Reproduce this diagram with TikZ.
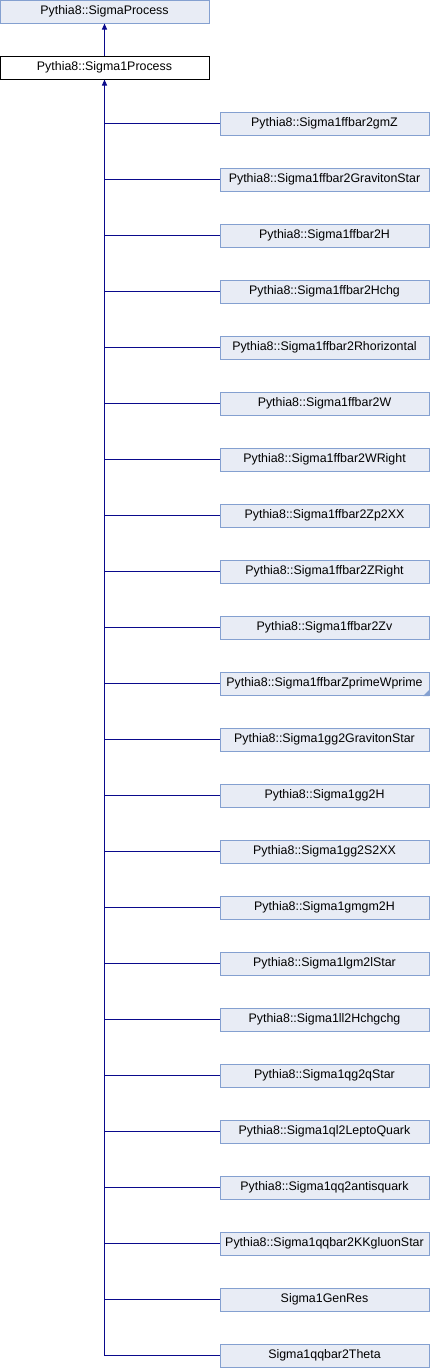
\documentclass[tikz,border=0pt]{standalone}
\usepackage{fontspec}
\setmainfont{Liberation Sans}
\usetikzlibrary{arrows.meta}
\definecolor{boxfill}{HTML}{E8ECF5}
\definecolor{boxline}{HTML}{84A0D0}
\definecolor{edge}{HTML}{0A0A8C}
\tikzset{
  cls/.style={draw=boxline, fill=boxfill, line width=1pt, minimum width=209pt, minimum height=23pt, inner sep=0pt, font=\fontsize{12.4}{14}\selectfont, anchor=center},
  cur/.style={cls, draw=black, fill=white},
  inh/.style={draw=edge, line width=1pt, -{Triangle[length=6pt,width=5pt]}},
  conn/.style={draw=edge, line width=1pt},
}
\begin{document}
\begin{tikzpicture}[x=1pt,y=-1pt]
\useasboundingbox (0,0) rectangle (430,1368);
\node[cls] (base) at (104.5,11.5) {Pythia8::SigmaProcess};
\node[cur] (s1) at (104.5,67.5) {Pythia8::Sigma1Process};
\draw[inh] (s1.north) -- (base.south);
\foreach \i/\t in {
 1/Pythia8::Sigma1ffbar2gmZ,
 2/Pythia8::Sigma1ffbar2GravitonStar,
 3/Pythia8::Sigma1ffbar2H,
 4/Pythia8::Sigma1ffbar2Hchg,
 5/Pythia8::Sigma1ffbar2Rhorizontal,
 6/Pythia8::Sigma1ffbar2W,
 7/Pythia8::Sigma1ffbar2WRight,
 8/Pythia8::Sigma1ffbar2Zp2XX,
 9/Pythia8::Sigma1ffbar2ZRight,
 10/Pythia8::Sigma1ffbar2Zv,
 11/Pythia8::Sigma1ffbarZprimeWprime,
 12/Pythia8::Sigma1gg2GravitonStar,
 13/Pythia8::Sigma1gg2H,
 14/Pythia8::Sigma1gg2S2XX,
 15/Pythia8::Sigma1gmgm2H,
 16/Pythia8::Sigma1lgm2lStar,
 17/Pythia8::Sigma1ll2Hchgchg,
 18/Pythia8::Sigma1qg2qStar,
 19/Pythia8::Sigma1ql2LeptoQuark,
 20/Pythia8::Sigma1qq2antisquark,
 21/Pythia8::Sigma1qqbar2KKgluonStar,
 22/Sigma1GenRes,
 23/Sigma1qqbar2Theta}{
  \node[cls] (c\i) at (324.5,{123.5+(\i-1)*56}) {\t};
  \coordinate (j\i) at (s1.south |- c\i.west);
  \draw[conn] (j\i) -- (c\i.west);
}
\draw[inh] (j23) -- (s1.south);
\fill[boxline] (c11.south east) ++(-0.5,0.5) -- ++(0,-6) -- ++(-6,6) -- cycle;
\end{tikzpicture}
\end{document}
